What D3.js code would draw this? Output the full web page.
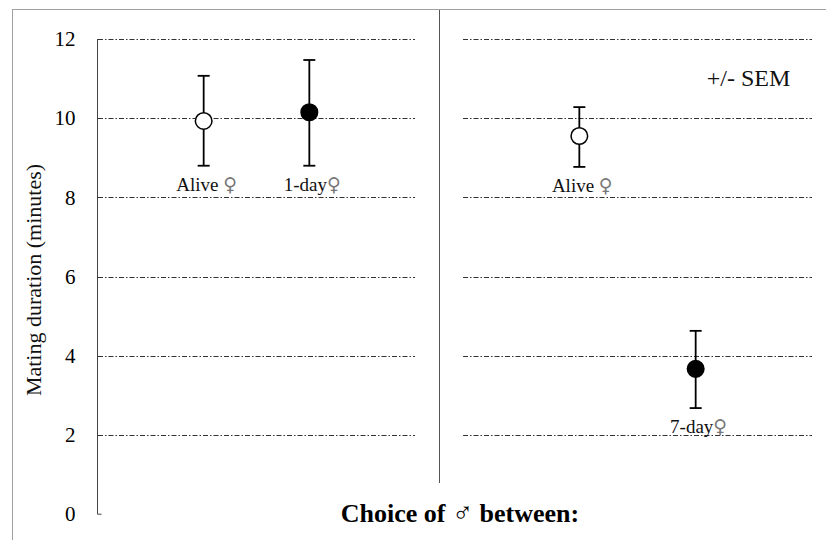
<!DOCTYPE html>
<html><head><meta charset="utf-8">
<script src="https://cdn.jsdelivr.net/npm/d3@7"></script>
</head><body style="margin:0;background:#fff">
<svg id="c" width="826" height="540" font-family="Liberation Serif"></svg>
<script>
const panels = ["left", "right"];
const leftCategories = ["Alive ", "1-day"];
const rightCategories = ["Alive ", "7-day"];
const femaleSign = "♀";
const leftMeans = [9.93, 10.15];
const leftLow = [8.80, 8.80];
const leftHigh = [11.07, 11.47];
const leftFilled = [false, true];
const rightMeans = [9.55, 3.67];
const rightLow = [8.77, 2.68];
const rightHigh = [10.28, 4.63];
const rightFilled = [false, true];
const yTicks = [0, 2, 4, 6, 8, 10, 12];
const yLabel = "Mating duration (minutes)";
const xLabelParts = ["Choice of ", "♂", " between:"];
const noteLabel = "+/- SEM";
const SERIF = "Liberation Serif";

const svg = d3.select("#c");
const y = d3.scaleLinear().domain([0, 12]).range([514.2, 39]);

svg.append("rect").attr("x", 12.5).attr("y", 9.5).attr("width", 900).attr("height", 700)
  .attr("fill", "none").attr("stroke", "#a0a0a0").attr("stroke-width", 1);

const panelRanges = {left: [98, 415], right: [463, 812]};
const panelData = {
  left: leftCategories.map((c, i) => ({c, m: leftMeans[i], lo: leftLow[i], hi: leftHigh[i], f: leftFilled[i]})),
  right: rightCategories.map((c, i) => ({c, m: rightMeans[i], lo: rightLow[i], hi: rightHigh[i], f: rightFilled[i]}))
};

panels.forEach(p => {
  const r = panelRanges[p];
  svg.append("g").selectAll("line").data(yTicks.filter(t => t > 0)).join("line")
    .attr("x1", r[0]).attr("x2", r[1])
    .attr("y1", d => Math.round(y(d)) + 0.5).attr("y2", d => Math.round(y(d)) + 0.5)
    .attr("stroke", "#333").attr("stroke-width", 1).attr("stroke-dasharray", "5,2,1.5,2");
});

const ax = svg.append("g").attr("transform", "translate(97.5,0)")
  .call(d3.axisLeft(y).tickValues(yTicks).tickSize(0).tickPadding(22).tickFormat(d3.format("d")));
ax.attr("font-family", SERIF).attr("font-size", 21);
ax.select(".domain").attr("stroke", "#444").attr("d", `M0,${y(12)}V${y(0)}H4`);
ax.selectAll("text").attr("fill", "#000");

svg.append("line").attr("x1", 439.5).attr("x2", 439.5).attr("y1", 10).attr("y2", 483)
  .attr("stroke", "#555").attr("stroke-width", 1);

panels.forEach(p => {
  const x = d3.scalePoint().domain(panelData[p].map(d => d.c)).range(panelRanges[p]).padding(1);
  const g = svg.append("g");
  const pts = g.selectAll("g").data(panelData[p]).join("g");
  pts.append("line").attr("x1", d => x(d.c)).attr("x2", d => x(d.c))
    .attr("y1", d => y(d.lo)).attr("y2", d => y(d.hi)).attr("stroke", "#000").attr("stroke-width", 1.8);
  pts.append("line").attr("x1", d => x(d.c) - 6).attr("x2", d => x(d.c) + 6)
    .attr("y1", d => y(d.lo)).attr("y2", d => y(d.lo)).attr("stroke", "#000").attr("stroke-width", 1.8);
  pts.append("line").attr("x1", d => x(d.c) - 6).attr("x2", d => x(d.c) + 6)
    .attr("y1", d => y(d.hi)).attr("y2", d => y(d.hi)).attr("stroke", "#000").attr("stroke-width", 1.8);
  pts.append("circle").attr("cx", d => x(d.c)).attr("cy", d => y(d.m)).attr("r", 8.3)
    .attr("fill", d => d.f ? "#000" : "#fff").attr("stroke", "#000").attr("stroke-width", 1.5);
  const t = pts.append("text").attr("x", d => x(d.c) + 3).attr("y", d => y(d.lo) + 25)
    .attr("text-anchor", "middle").attr("font-size", 19).attr("font-family", SERIF).attr("fill", "#111");
  t.append("tspan").text(d => d.c);
  t.append("tspan").attr("font-size", 19).attr("font-family", "DejaVu Serif").attr("fill", "#777").text(femaleSign);
});

svg.append("text").attr("transform", "translate(41,280) rotate(-90)").attr("text-anchor", "middle")
  .attr("font-size", 22).attr("font-family", SERIF).attr("fill", "#111").text(yLabel);
const xl = svg.append("text").attr("x", 460).attr("y", 522).attr("text-anchor", "middle")
  .attr("font-size", 26).attr("font-weight", "bold").attr("font-family", SERIF).attr("fill", "#000");
xl.selectAll("tspan").data(xLabelParts).join("tspan")
  .attr("font-weight", (d, i) => i === 1 ? "normal" : "bold")
  .attr("font-size", (d, i) => i === 1 ? 28 : 26).text(d => d);
svg.append("text").attr("x", 748.5).attr("y", 86).attr("text-anchor", "middle")
  .attr("font-size", 24).attr("font-family", SERIF).attr("fill", "#111").text(noteLabel);
</script></body></html>
